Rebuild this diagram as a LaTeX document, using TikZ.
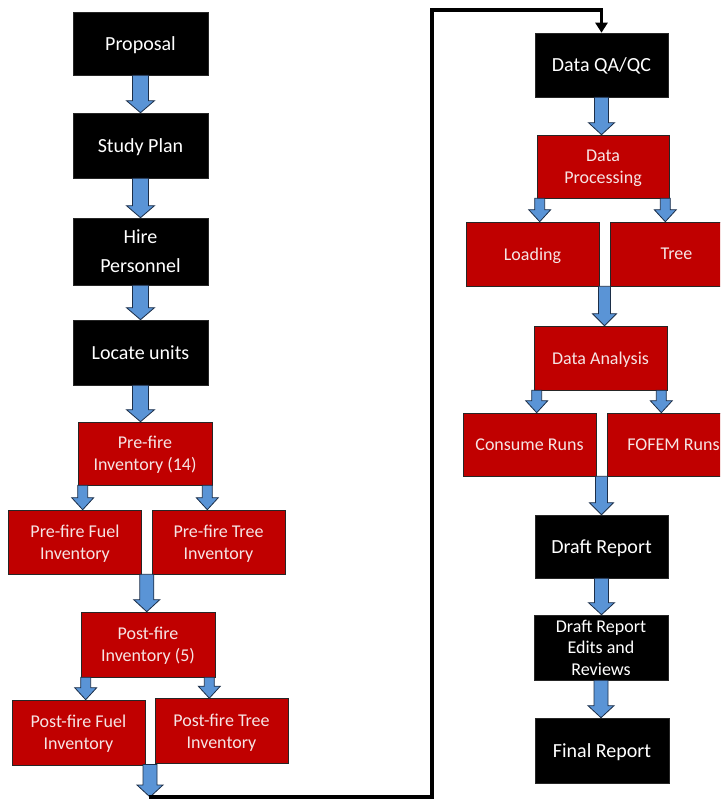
\documentclass[tikz,border=0pt]{standalone}
\usepackage{fontspec}
\setmainfont{Carlito}
\usetikzlibrary{calc,arrows.meta}

\definecolor{boxred}{HTML}{C00000}
\definecolor{boxtext}{HTML}{F6E4E4}
\definecolor{arrowblue}{HTML}{5A94D6}
\definecolor{arrowedge}{HTML}{1C2E48}

% fat block arrow, straight down from #2 to the height of #3
\newcommand{\blkarrow}[3][8]{%
  \path[blk] let \p1=#2, \p2=#3 in
    (\x1-#1pt,\y1) -- (\x1-#1pt,\y2+12pt) -- (\x1-#1pt-6pt,\y2+12pt) -- (\x1,\y2)
    -- (\x1+#1pt+6pt,\y2+12pt) -- (\x1+#1pt,\y2+12pt) -- (\x1+#1pt,\y1) -- cycle;}

\begin{document}
\begin{tikzpicture}[x=1pt, y=-1pt,
  b/.style={draw=black!85, line width=0.6pt, align=center, inner sep=0pt, text depth=0pt,
            minimum width=133pt, minimum height=64pt},
  blackbox/.style={b, fill=black, text=white, font=\fontsize{20}{29}\selectfont},
  redbox/.style={b, fill=boxred, text=boxtext, font=\fontsize{18}{22}\selectfont},
  blk/.style={fill=arrowblue, draw=arrowedge, line width=0.8pt, line join=miter},
  conn/.style={draw=black, line width=3.4pt, -{Triangle[width=12pt,length=10pt]}},
]
\clip (0,0) rectangle (720,800);

% left column: proposal to field work
\node[blackbox, minimum width=135pt, minimum height=63pt] (prop) at (140.5,43.5) {Proposal};
\node[blackbox, minimum width=135pt, minimum height=65pt] (plan) at (140.5,145.5) {Study Plan};
\node[blackbox, minimum width=135pt, minimum height=67pt] (hire) at (140.5,251.5) {Hire\\Personnel};
\node[blackbox, minimum width=135pt, minimum height=65pt] (locate) at (140.5,352.5) {Locate units};

\node[redbox, minimum width=134pt, minimum height=63pt] (pre) at (145,453.5) {Pre-fire\\Inventory (14)};
\node[redbox] (prefuel) at (75,542) {Pre-fire Fuel\\Inventory};
\node[redbox] (pretree) at (218.5,542) {Pre-fire Tree\\Inventory};

\node[redbox, minimum width=134pt, minimum height=65pt] (post) at (148,644.5) {Post-fire\\Inventory (5)};
\node[redbox, minimum height=65pt] (postfuel) at (78.5,732.5) {Post-fire Fuel\\Inventory};
\node[redbox, minimum height=65pt] (posttree) at (221.5,731) {Post-fire Tree\\Inventory};

% right column: data to report
\node[blackbox] (qa) at (601.5,65) {Data QA/QC};
\node[redbox, minimum width=132pt, minimum height=63pt] (proc) at (603,166.5) {Data\\Processing};
\node[redbox] (load) at (532.5,254) {Loading};
\node[redbox] (tree) at (676.5,254) {Tree};
\node[redbox] (anal) at (600.5,358) {Data Analysis};
\node[redbox, minimum height=63pt] (consume) at (529.5,444.5) {Consume Runs};
\node[redbox, minimum height=63pt] (fofem) at (673.5,444.5) {FOFEM Runs};
\node[blackbox, minimum height=63pt] (draft) at (601.5,546.5) {Draft Report};
\node[blackbox, minimum width=134pt, minimum height=65pt,
      font=\fontsize{18}{21.5}\selectfont] (edits) at (601,647.5) {Draft Report\\Edits and\\Reviews};
\node[blackbox, minimum width=134pt, minimum height=65pt] (final) at (602,750.5) {Final Report};

% block arrows, left
\blkarrow{(prop.south)}{(plan.north)}
\blkarrow{(plan.south)}{(hire.north)}
\blkarrow{(hire.south)}{(locate.north)}
\blkarrow{(locate.south)}{(pre.north)}
\blkarrow[5]{($(pre.south west)+(5,0)$)}{(prefuel.north)}
\blkarrow[5]{($(pre.south east)+(-5,0)$)}{(pretree.north)}
\blkarrow[7]{($(prefuel.south east)!.5!(pretree.south west)$)}{(post.north)}
\blkarrow[5]{($(post.south west)+(5,0)$)}{(postfuel.north)}
\blkarrow[5]{($(post.south east)+(-6,0)$)}{(posttree.north)}
\coordinate (outtip) at (149,797);
\blkarrow[7]{($(postfuel.south east)!.5!(posttree.south west)$)}{(outtip)}

% block arrows, right
\blkarrow[7]{(qa.south)}{(proc.north)}
\blkarrow[5]{($(proc.south west)+(3,0)$)}{(load.north)}
\blkarrow[5]{($(proc.south east)+(-4,0)$)}{(tree.north)}
\blkarrow[6]{($(load.south east)!.5!(tree.south west)$)}{(anal.north)}
\blkarrow[5]{($(anal.south west)+(3,0)$)}{(consume.north)}
\blkarrow[5]{($(anal.south east)+(-6,0)$)}{(fofem.north)}
\blkarrow[6]{($(consume.south east)!.5!(fofem.south west)$)}{(draft.north)}
\blkarrow[7]{(draft.south)}{(edits.north)}
\blkarrow[7]{(edits.south)}{(final.north)}

% connector from field work to data
\coordinate (bend) at (432,10);
\draw[conn] (outtip) -| (bend) -| (qa.north);
\end{tikzpicture}
\end{document}
